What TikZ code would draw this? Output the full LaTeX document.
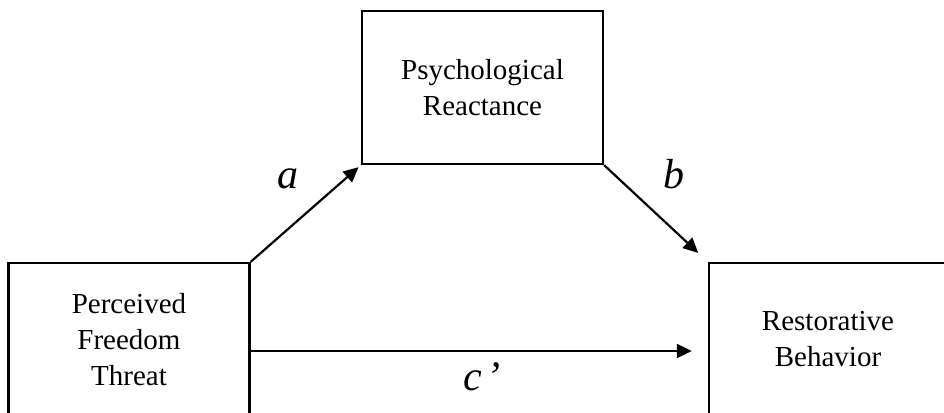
\documentclass[tikz,border=0pt]{standalone}
\usepackage{fontspec}
\setmainfont{Liberation Serif}
\usepackage{tikz}
\usetikzlibrary{arrows.meta, positioning}

\tikzset{
  varbox/.style={draw, line width=1.2pt, minimum width=120.5pt, minimum height=76.5pt,
    align=center, inner sep=0pt, font=\fontsize{14.5pt}{18pt}\selectfont},
  path/.style={line width=1.1pt, -{Triangle[length=7.5pt,width=7pt]}},
  coef/.style={anchor=base, font=\fontsize{21pt}{24pt}\selectfont\itshape}
}

\begin{document}
\begin{tikzpicture}[x=0.5pt,y=-0.5pt]
    \useasboundingbox (0,0) rectangle (944,413);
    \clip (0,0) rectangle (944,413);

      % boxes
    \node[varbox] (pft) at (129,339.5) {Perceived\\Freedom\\Threat};
    \node[varbox] (pr) at (482.5,87.5) {Psychological\\Reactance};
    \node[varbox, minimum width=119pt] (rb) at (828,339.5) {Restorative\\Behavior};

      % paths
    \draw[path, shorten >=1.5pt] (pft.north east) -- (pr.south west);
    \draw[path, shorten >=6.5pt] (pr.south east) -- (rb.north west);
    \draw[path] ([yshift=-5.75pt]pft.east) -- ([yshift=-5.75pt,xshift=-8pt]rb.west);

    \node[coef] (la) at (288,188) {a};
    \node[coef] (lb) at (674,188) {b};
    \node[coef] (lc) at (482,390) {c\hspace{2.5pt}’};
\end{tikzpicture}
\end{document}
